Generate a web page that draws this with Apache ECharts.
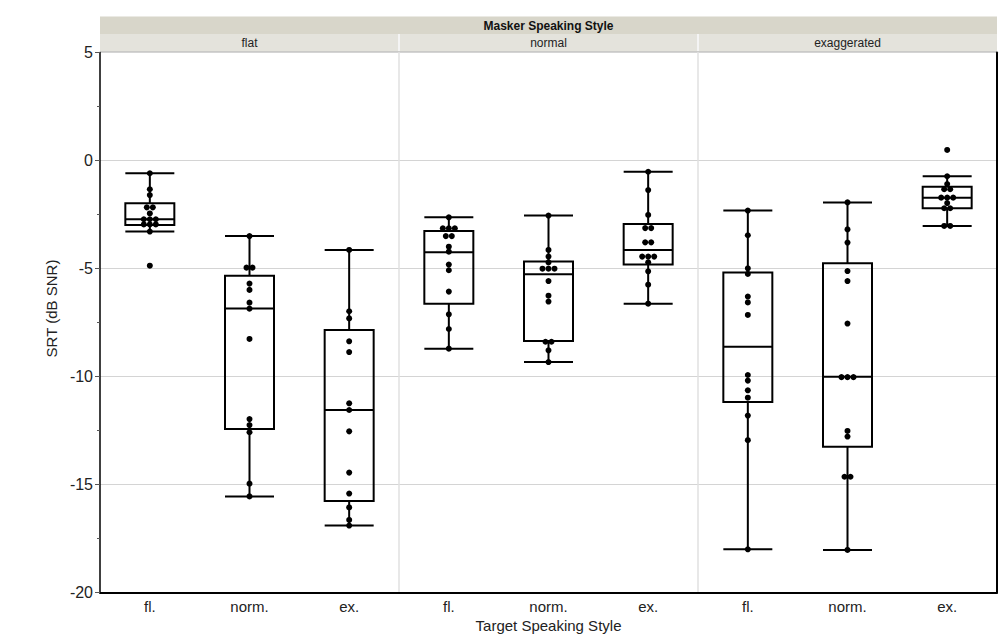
<!DOCTYPE html>
<html><head><meta charset="utf-8">
<script src="https://cdn.jsdelivr.net/npm/echarts@6/dist/echarts.min.js"></script>
<style>html,body{margin:0;padding:0;background:#fff}#c{width:1001px;height:635px}</style>
</head><body><div id="c"></div>
<script>
// ---------- data ----------
const maskerStyles = ['flat', 'normal', 'exaggerated'];
const targetStyles = ['fl.', 'norm.', 'ex.'];
const yTicks = [5, 0, -5, -10, -15, -20];

// individual SRT points, per masker panel: [fl., norm., ex.]
const flatMaskerPoints = [
  [-0.59, -1.33, -1.60, -2.17, -2.17, -2.45, -2.72, -2.72, -2.72, -2.96, -2.96, -2.96, -3.29, -4.87],
  [-3.50, -4.96, -4.96, -5.70, -5.99, -6.58, -6.86, -8.26, -11.97, -12.25, -12.58, -14.96, -15.55],
  [-4.14, -6.98, -7.31, -8.37, -8.87, -11.24, -11.55, -12.54, -14.45, -15.42, -16.06, -16.64, -16.90]
];
const normalMaskerPoints = [
  [-2.63, -3.14, -3.14, -3.14, -3.50, -3.50, -3.99, -4.22, -4.82, -5.08, -6.07, -7.12, -7.80, -8.71],
  [-2.55, -4.14, -4.45, -4.72, -5.01, -5.01, -5.01, -5.58, -6.26, -6.53, -8.39, -8.39, -8.79, -9.33],
  [-0.52, -1.37, -2.52, -3.13, -3.13, -3.79, -3.79, -4.45, -4.45, -4.45, -4.71, -5.13, -5.75, -6.63]
];
const exaggeratedMaskerPoints = [
  [-2.32, -3.46, -4.99, -5.25, -6.30, -6.57, -7.15, -9.93, -10.19, -10.64, -10.98, -11.81, -12.95, -18.00],
  [-1.94, -3.19, -3.80, -5.12, -5.58, -7.55, -10.03, -10.03, -10.03, -12.52, -12.78, -14.64, -14.64, -18.03],
  [0.49, -0.73, -1.09, -1.33, -1.33, -1.72, -1.72, -1.72, -1.97, -2.21, -2.21, -3.03, -3.03]
];

// box statistics [lower whisker, Q1, median, Q3, upper whisker]
const flatMaskerBoxes = [
  [-3.29, -2.99, -2.72, -1.98, -0.59],
  [-15.55, -12.43, -6.85, -5.33, -3.50],
  [-16.90, -15.76, -11.55, -7.85, -4.14]
];
const normalMaskerBoxes = [
  [-8.71, -6.63, -4.25, -3.26, -2.63],
  [-9.33, -8.36, -5.27, -4.68, -2.55],
  [-6.63, -4.82, -4.14, -2.94, -0.52]
];
const exaggeratedMaskerBoxes = [
  [-18.00, -11.18, -8.62, -5.19, -2.32],
  [-18.03, -13.25, -10.01, -4.76, -1.94],
  [-3.03, -2.21, -1.72, -1.21, -0.73]
];

// ---------- layout ----------
const W = 1001, H = 635;
const plotLeft = 100, plotRight = 997, plotTop = 52.5, plotBottom = 592.5;
const panelW = (plotRight - plotLeft) / 3;
const FONT = 'Liberation Sans, Arial, sans-serif';
const pointsByPanel = [flatMaskerPoints, normalMaskerPoints, exaggeratedMaskerPoints];
const boxesByPanel = [flatMaskerBoxes, normalMaskerBoxes, exaggeratedMaskerBoxes];

// symmetric horizontal spreading of (near) coincident points
function swarm(vals) {
  const sorted = vals.slice().sort((a, b) => b - a);
  const out = [];
  let i = 0;
  while (i < sorted.length) {
    let j = i;
    while (j + 1 < sorted.length && Math.abs(sorted[j + 1] - sorted[i]) < 0.2) j++;
    const n = j - i + 1;
    for (let k = 0; k < n; k++) out.push({ v: sorted[i + k], dx: (k - (n - 1) / 2) * 6 });
    i = j + 1;
  }
  return out;
}

const grids = [], xAxes = [], yAxes = [], series = [];
for (let p = 0; p < 3; p++) {
  const left = plotLeft + p * panelW;
  grids.push({ left: left, width: panelW, top: plotTop, height: plotBottom - plotTop,
    containLabel: false, outerBoundsMode: 'none' });
  xAxes.push({
    type: 'category', gridIndex: p, data: targetStyles,
    axisLine: { show: true, onZero: false, lineStyle: { color: '#000', width: 2 } },
    axisTick: { show: false },
    axisLabel: { color: '#222', fontSize: 15, fontFamily: FONT, margin: 6 },
    splitLine: { show: false },
    name: p === 1 ? 'Target Speaking Style' : '', nameLocation: 'middle', nameGap: 18,
    nameTextStyle: { color: '#222', fontSize: 15, fontFamily: FONT }
  });
  yAxes.push({
    type: 'value', gridIndex: p, min: -20, max: 5, interval: 5,
    axisLine: { show: true, onZero: false, lineStyle: { color: p === 0 ? '#000' : '#e0e0e0', width: 1.5 } },
    axisTick: { show: p === 0, length: 5, lineStyle: { color: '#555' } },
    minorTick: { show: p === 0, splitNumber: 2, length: 3, lineStyle: { color: '#555' } },
    axisLabel: { show: p === 0, color: '#222', fontSize: 16, fontFamily: FONT, margin: 7 },
    splitLine: { show: true, lineStyle: { color: '#d4d4d4', width: 1 } },
    name: p === 0 ? 'SRT (dB SNR)' : '', nameLocation: 'middle', nameGap: 41, nameRotate: 90,
    nameTextStyle: { color: '#222', fontSize: 15, fontFamily: FONT, padding: [0, 0, 0, 28] }
  });
  series.push({
    type: 'boxplot', xAxisIndex: p, yAxisIndex: p,
    data: boxesByPanel[p],
    boxWidth: [49, 49],
    itemStyle: { color: 'rgba(255,255,255,0)', borderColor: '#000', borderWidth: 2 },
    emphasis: { disabled: true }, z: 3
  });
  const pts = [];
  pointsByPanel[p].forEach((vals, ci) => {
    swarm(vals).forEach(o => pts.push({ value: [ci, o.v], symbolOffset: [o.dx, 0] }));
  });
  series.push({
    type: 'scatter', xAxisIndex: p, yAxisIndex: p, data: pts,
    symbol: 'circle', symbolSize: 6, itemStyle: { color: '#000', opacity: 1 }, z: 5,
    emphasis: { disabled: true }
  });
}
// right border of the plot
yAxes.push({
  type: 'value', gridIndex: 2, position: 'right', min: -20, max: 5, interval: 5,
  axisLine: { show: true, onZero: false, lineStyle: { color: '#000', width: 2 } },
  axisTick: { show: false }, axisLabel: { show: false }, splitLine: { show: false }
});

// header strips (facet labels)
const stripTop = 16.5, stripMid = 34, stripBottom = 52;
const graphic = [
  { type: 'rect', shape: { x: plotLeft, y: stripTop, width: plotRight - plotLeft, height: stripMid - stripTop }, style: { fill: '#d8d6ca' }, silent: true },
  { type: 'rect', shape: { x: plotLeft, y: stripMid, width: plotRight - plotLeft, height: stripBottom - stripMid }, style: { fill: '#e4e3dc' }, silent: true },
  { type: 'line', shape: { x1: plotLeft, y1: stripBottom, x2: plotRight, y2: stripBottom }, style: { stroke: '#c2c2c2', lineWidth: 1.5 }, silent: true },
  { type: 'text', x: (plotLeft + plotRight) / 2, y: (stripTop + stripMid) / 2 + 0.5,
    style: { text: 'Masker Speaking Style', fill: '#111', fontSize: 12, fontWeight: 'bold', fontFamily: FONT, align: 'center', verticalAlign: 'middle' }, silent: true }
];
for (let p = 0; p < 3; p++) {
  graphic.push({ type: 'text', x: plotLeft + (p + 0.5) * panelW, y: (stripMid + stripBottom) / 2,
    style: { text: maskerStyles[p], fill: '#222', fontSize: 12, fontFamily: FONT, align: 'center', verticalAlign: 'middle' }, silent: true });
  if (p > 0) graphic.push({ type: 'line', shape: { x1: plotLeft + p * panelW, y1: stripMid, x2: plotLeft + p * panelW, y2: stripBottom - 1 },
    style: { stroke: '#f4f4f4', lineWidth: 2 }, silent: true });
}

const chart = echarts.init(document.getElementById('c'), null, { renderer: 'svg', width: W, height: H });
chart.setOption({
  animation: false,
  backgroundColor: '#fff',
  grid: grids, xAxis: xAxes, yAxis: yAxes, series: series, graphic: graphic
});
</script></body></html>
